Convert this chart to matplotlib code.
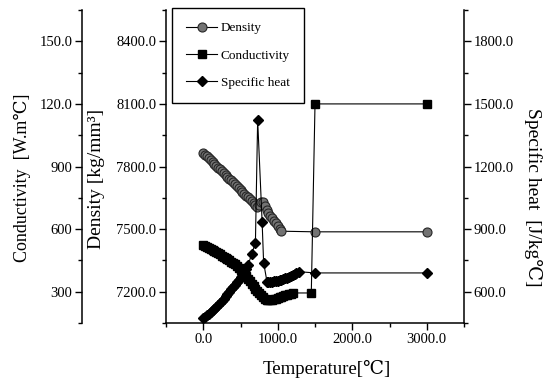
import matplotlib.pyplot as plt
from matplotlib.ticker import FixedLocator, FixedFormatter, MultipleLocator

plt.rcParams['font.family'] = ['Liberation Serif', 'DejaVu Serif']

# Density [kg/mm3] against temperature
dens_temp = [0, 25, 50, 75, 100, 125, 150, 175, 200, 225, 250, 275, 300, 325,
             350, 375, 400, 425, 450, 475, 500, 525, 550, 575, 600, 625, 650,
             675, 700, 725, 750, 775, 800, 825, 850, 875, 900, 925, 950, 975,
             1000, 1025, 1050, 1500, 3000]
dens_val = [7865, 7856, 7848, 7839, 7830, 7821, 7812, 7804, 7795, 7786, 7777,
            7768, 7760, 7751, 7742, 7733, 7724, 7715, 7706, 7697, 7688, 7679,
            7670, 7661, 7652, 7643, 7634, 7625, 7616, 7608, 7615, 7628, 7630,
            7612, 7592, 7578, 7565, 7552, 7540, 7527, 7514, 7502, 7490, 7487,
            7487]

# Thermal conductivity [W/m C]
cond_temp = [0, 25, 50, 75, 100, 125, 150, 175, 200, 225, 250, 275, 300, 325,
             350, 375, 400, 425, 450, 475, 500, 525, 550, 575, 600, 625, 650,
             675, 700, 725, 750, 775, 800, 825, 850, 875, 900, 925, 950, 975,
             1000, 1025, 1050, 1075, 1100, 1125, 1150, 1175, 1200, 1450, 1500,
             3000]
cond_val = [52.4, 52.0, 51.5, 51.1, 50.6, 50.1, 49.5, 49.0, 48.5, 47.9, 47.3,
            46.8, 46.2, 45.6, 45.0, 44.4, 43.8, 43.1, 42.4, 41.5, 40.6, 39.6,
            38.5, 37.3, 36.0, 34.9, 33.8, 32.6, 31.5, 30.5, 29.5, 28.5, 27.5,
            26.6, 26.0, 25.9, 26.0, 26.2, 26.5, 26.7, 27.0, 27.3, 27.6, 27.9,
            28.2, 28.5, 28.8, 29.1, 29.4, 29.4, 120.0, 120.0]

# Specific heat [J/kg C]
cp_temp = [0, 25, 50, 75, 100, 125, 150, 175, 200, 225, 250, 275, 300, 325,
           350, 375, 400, 425, 450, 475, 500, 525, 550, 575, 600, 650, 700,
           730, 790, 810, 855, 875, 900, 925, 950, 975, 1000, 1025, 1050, 1075,
           1100, 1125, 1150, 1175, 1200, 1225, 1250, 1280, 1500, 3000]
cp_val = [474, 481, 488, 495, 503, 511, 519, 528, 537, 546, 556, 567, 578, 589,
          600, 611, 622, 634, 646, 658, 670, 683, 697, 711, 726, 780, 835,
          1423, 935, 740, 648, 647, 647, 648, 649, 650, 652, 655, 658, 661,
          665, 668, 672, 676, 681, 685, 690, 696, 690, 690]

x_ticks = [0, 1000, 2000, 3000]
x_labels = ['0.0', '1000.0', '2000.0', '3000.0']
dens_ticks = [7200, 7500, 7800, 8100, 8400]
dens_labels = ['7200.0', '7500.0', '7800.0', '8100.0', '8400.0']
cond_ticks = [30, 60, 90, 120, 150]
cond_labels = ['300', '600', '900', '120.0', '150.0']
cp_ticks = [600, 900, 1200, 1500, 1800]
cp_labels = ['600.0', '900.0', '1200.0', '1500.0', '1800.0']

fig = plt.figure(figsize=(5.49, 3.85), dpi=100)
ax = fig.add_axes([0.3024, 0.161, 0.5428, 0.813])
ax_cp = ax.twinx()
ax_k = ax.twinx()

line_kw = dict(color='black', linewidth=0.8)
l_dens, = ax.plot(dens_temp, dens_val, marker='o', markersize=6.5,
                  markerfacecolor='0.45', markeredgecolor='0.15',
                  markeredgewidth=0.8, label='Density', **line_kw)
l_cond, = ax_k.plot(cond_temp, cond_val, marker='s', markersize=6,
                    markerfacecolor='black', markeredgecolor='black',
                    label='Conductivity', **line_kw)
l_cp, = ax_cp.plot(cp_temp, cp_val, marker='D', markersize=5,
                   markerfacecolor='black', markeredgecolor='black',
                   label='Specific heat', **line_kw)

ax.set_xlim(-500, 3500)
ax.set_ylim(7050, 8550)
ax_k.set_ylim(15, 165)
ax_cp.set_ylim(450, 1950)

# spines: density on the left, specific heat on the right,
# conductivity on an offset left spine
for a in (ax, ax_cp, ax_k):
    a.spines['top'].set_visible(False)
ax.spines['right'].set_visible(False)
for s in ('left', 'bottom'):
    ax_cp.spines[s].set_visible(False)
for s in ('right', 'bottom'):
    ax_k.spines[s].set_visible(False)
ax_k.spines['left'].set_visible(True)
ax_k.spines['left'].set_position(('axes', -0.282))
ax_k.yaxis.set_label_position('left')
ax_k.yaxis.set_ticks_position('left')

for a in (ax, ax_cp, ax_k):
    for sp in a.spines.values():
        sp.set_linewidth(1.1)

ax.xaxis.set_major_locator(FixedLocator(x_ticks))
ax.xaxis.set_major_formatter(FixedFormatter(x_labels))
ax.xaxis.set_minor_locator(MultipleLocator(500))
ax.yaxis.set_major_locator(FixedLocator(dens_ticks))
ax.yaxis.set_major_formatter(FixedFormatter(dens_labels))
ax.yaxis.set_minor_locator(MultipleLocator(150))
ax_k.yaxis.set_major_locator(FixedLocator(cond_ticks))
ax_k.yaxis.set_major_formatter(FixedFormatter(cond_labels))
ax_k.yaxis.set_minor_locator(MultipleLocator(15))
ax_cp.yaxis.set_major_locator(FixedLocator(cp_ticks))
ax_cp.yaxis.set_major_formatter(FixedFormatter(cp_labels))
ax_cp.yaxis.set_minor_locator(MultipleLocator(150))

for a in (ax, ax_cp, ax_k):
    a.tick_params(which='major', direction='out', length=5, width=1,
                  labelsize=10.5, pad=2)
    a.tick_params(which='minor', direction='out', length=3, width=1)

ax.set_xlabel('Temperature[℃]', fontsize=13.5)
ax.xaxis.set_label_coords(0.54, -0.118)
ax.set_ylabel('Density [kg/mm³]', fontsize=14, va='center', ha='center')
ax.yaxis.set_label_coords(-0.232, 0.46)
ax_k.set_ylabel('Conductivity  [W.m℃]', fontsize=13, va='center',
                ha='center')
ax_k.yaxis.set_label_coords(-0.483, 0.463)
ax_cp.set_ylabel('Specific heat  [J/kg℃]', fontsize=14, rotation=-90,
                 va='center', ha='center')
ax_cp.yaxis.set_label_coords(1.232, 0.403)

leg = ax_k.legend(handles=[l_dens, l_cond, l_cp], loc='upper left',
                  bbox_to_anchor=(0.02, 1.006), borderaxespad=0,
                  fontsize=9.5, frameon=True, fancybox=False, framealpha=1,
                  edgecolor='black', handlelength=2.4, labelspacing=1.15,
                  borderpad=1.05, handletextpad=0.25)
leg.get_frame().set_linewidth(1.0)

fig.savefig('out.png', dpi=100)
